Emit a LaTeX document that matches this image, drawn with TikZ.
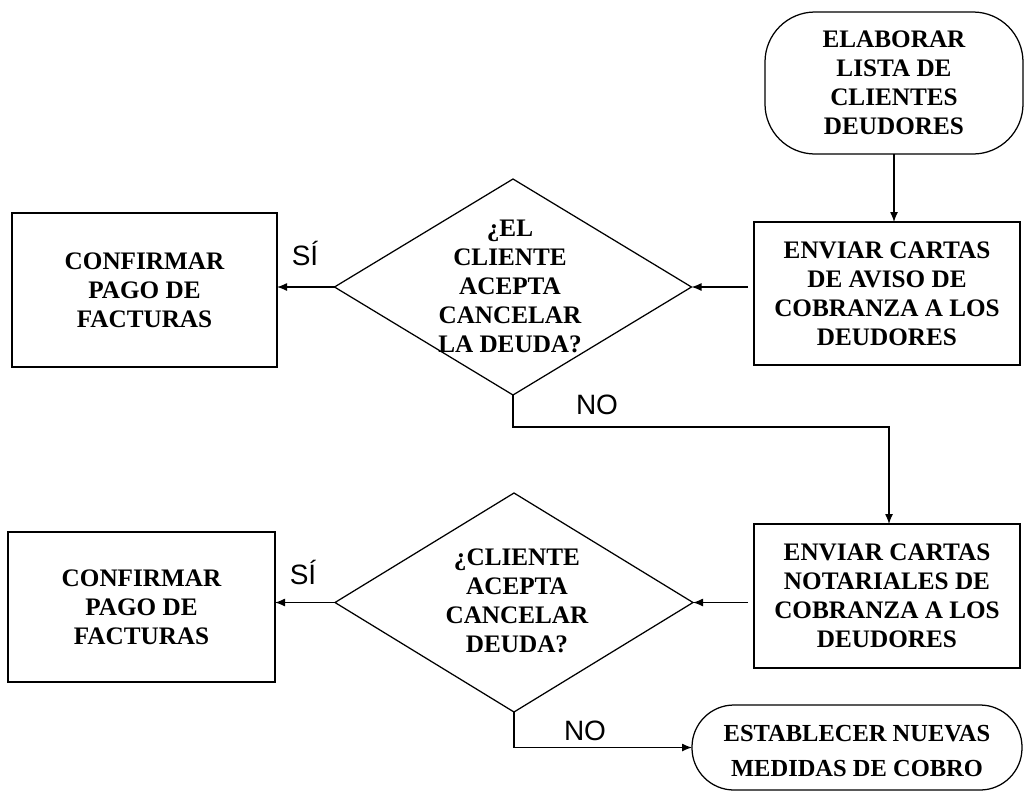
\documentclass[tikz,border=0pt]{standalone}
\usepackage{fontspec}
\setmainfont{Liberation Serif}
\newfontfamily\labfont{Liberation Sans}
\usetikzlibrary{shapes.geometric,arrows.meta}
\begin{document}
\begin{tikzpicture}[x=1pt,y=-1pt,
 every node/.style={inner sep=0pt, outer sep=0pt},
 line/.style={draw=black, line width=1.25pt},
 txt/.style={align=center, font=\fontsize{25.2}{29}\selectfont\bfseries},
 boxnode/.style={line, rectangle, txt},
 term/.style={line, rectangle, rounded corners=#1, txt},
 dec/.style={line, diamond},
 arr/.style={line, -{Latex[length=10pt,width=8pt]}},
 lab/.style={font=\labfont\fontsize{28}{32}\selectfont, anchor=base},
]
\useasboundingbox (0,0) rectangle (1025,793);

\node[term=50pt, minimum width=258pt, minimum height=142pt] (s) at (894,83) {ELABORAR\\LISTA DE\\CLIENTES\\DEUDORES};
\node[boxnode, minimum width=266pt, minimum height=143pt] (b1) at (887,293.5) {ENVIAR CARTAS\\DE AVISO DE\\COBRANZA A LOS\\DEUDORES};
\node[dec, minimum width=357pt, minimum height=216pt] (d1) at (513,287) {};
\node[txt] (d1t) at (510,286) {¿EL\\CLIENTE\\ACEPTA\\CANCELAR\\LA DEUDA?};
\node[boxnode, minimum width=265pt, minimum height=154pt] (c1) at (144.5,290) {CONFIRMAR\\PAGO DE\\FACTURAS};

\node[boxnode, minimum width=266pt, minimum height=144pt] (b2) at (887,596) {ENVIAR CARTAS\\NOTARIALES DE\\COBRANZA A LOS\\DEUDORES};
\node[dec, minimum width=358pt, minimum height=219pt] (d2) at (514,602.5) {};
\node[txt] (d2t) at (517,601) {¿CLIENTE\\ACEPTA\\CANCELAR\\DEUDA?};
\node[boxnode, minimum width=267pt, minimum height=150pt] (c2) at (141.5,607) {CONFIRMAR\\PAGO DE\\FACTURAS};
\node[term=42pt, minimum width=330pt, minimum height=85pt] (e) at (857,747.5) {};
\node[txt, font=\fontsize{24.5}{35}\selectfont\bfseries] (et) at (857,751) {ESTABLECER NUEVAS\\MEDIDAS DE COBRO};

\node[lab] (si1) at (305,265) {SÍ};
\node[lab] (si2) at (303,584) {SÍ};
\node[lab] (no1) at (597,414) {NO};
\node[lab] (no2) at (585,740) {NO};

\draw[arr] (s.south) -- (s.south |- b1.north);
\draw[arr, shorten <=6pt] (d1.east -| b1.west) -- (d1.east);
\draw[arr] (d1.west) -- (d1.west -| c1.east);
\coordinate (k1) at (889,427);
\draw[arr] (d1.south) |- (k1) -- (k1 |- b2.north);
\draw[arr, shorten <=6pt] (d2.east -| b2.west) -- (d2.east);
\draw[arr] (d2.west) -- (d2.west -| c2.east);
\draw[arr] (d2.south) |- (e.west);
\end{tikzpicture}
\end{document}
